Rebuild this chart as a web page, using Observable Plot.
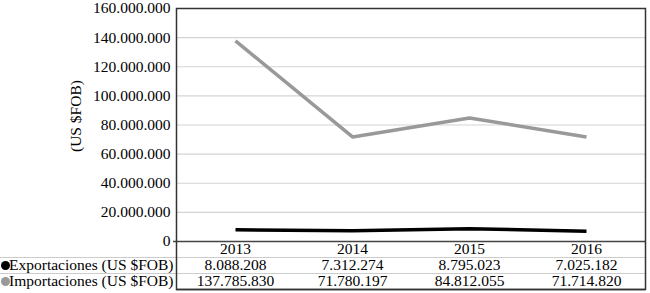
<!DOCTYPE html>
<html>
<head>
<meta charset="utf-8">
<script src="https://cdn.jsdelivr.net/npm/d3@7"></script>
<script src="https://cdn.jsdelivr.net/npm/@observablehq/plot@0.6"></script>
<style>
  html, body { margin: 0; padding: 0; background: #fff; }
  #chart svg { display: block; }
</style>
</head>
<body>
<div id="chart"></div>
<script>
const years = ["2013", "2014", "2015", "2016"];
const exportaciones = [8088208, 7312274, 8795023, 7025182];
const importaciones = [137785830, 71780197, 84812055, 71714820];
const yTicks = [0, 20000000, 40000000, 60000000, 80000000, 100000000, 120000000, 140000000, 160000000];
const seriesNames = ["Exportaciones (US $FOB)", "Importaciones (US $FOB)"];
const yLabel = "(US $FOB)";

const locale = d3.formatLocale({decimal: ",", thousands: ".", grouping: [3], currency: ["$", ""]});
const fmt = locale.format(",d");

const expData = years.map((y, i) => ({year: y, value: exportaciones[i]}));
const impData = years.map((y, i) => ({year: y, value: importaciones[i]}));

const font = "Liberation Serif";
const fs = 15.5;
const colors = ["#000000", "#999999"];
const txt = {fill: "#000", fontFamily: font, fontSize: fs};

const chart = Plot.plot({
  width: 650,
  height: 293,
  marginLeft: 176,
  marginRight: 5,
  marginTop: 8,
  marginBottom: 52,
  style: {fontFamily: font, fontSize: fs + "px", background: "#fff", color: "#000"},
  x: {type: "point", domain: years, padding: 0.5, axis: null},
  y: {domain: [0, 160000000], ticks: yTicks, tickFormat: fmt, tickSize: 0, tickPadding: 6, label: null},
  marks: [
    Plot.gridY(yTicks, {stroke: "#d4d4d4", strokeOpacity: 1, strokeWidth: 1.2}),
    Plot.lineY(impData, {x: "year", y: "value", stroke: colors[1], strokeWidth: 3.5, strokeLinecap: "butt"}),
    Plot.lineY(expData, {x: "year", y: "value", stroke: colors[0], strokeWidth: 3.5, strokeLinecap: "butt"}),
    Plot.ruleY([0], {dy: 16, insetLeft: -176, stroke: "#cccccc", strokeWidth: 1.2}),
    Plot.ruleY([0], {dy: 32, insetLeft: -176, stroke: "#cccccc", strokeWidth: 1.2}),
    Plot.ruleY([0], {dy: 48, stroke: "#333", strokeWidth: 1.5}),
    Plot.ruleY([0], {insetLeft: -3, stroke: "#444", strokeWidth: 1.5}),
    Plot.frame({insetBottom: -48, stroke: "#333", strokeWidth: 1.5}),
    Plot.text(years, {x: d => d, y: 0, dy: 8, text: d => d, lineAnchor: "middle", ...txt}),
    Plot.text(expData, {x: "year", y: 0, dy: 24, text: d => fmt(d.value), lineAnchor: "middle", ...txt}),
    Plot.text(impData, {x: "year", y: 0, dy: 40, text: d => fmt(d.value), lineAnchor: "middle", ...txt}),
    Plot.text([seriesNames[0]], {frameAnchor: "bottom-left", dx: -3, dy: 24, textAnchor: "end", lineAnchor: "middle", ...txt}),
    Plot.text([seriesNames[1]], {frameAnchor: "bottom-left", dx: -3, dy: 40, textAnchor: "end", lineAnchor: "middle", ...txt}),
    Plot.dot([seriesNames[0]], {frameAnchor: "bottom-left", dx: -171, dy: 24, r: 4.5, fill: colors[0], stroke: "none"}),
    Plot.dot([seriesNames[1]], {frameAnchor: "bottom-left", dx: -171, dy: 40, r: 4.5, fill: colors[1], stroke: "none"}),
    Plot.text([yLabel], {frameAnchor: "left", dx: -100, dy: 27, rotate: -90, ...txt}),
    Plot.axisY({ticks: yTicks, tickFormat: fmt, tickSize: 0, tickPadding: 6, label: null, ...txt})
  ]
});
document.getElementById("chart").appendChild(chart);
</script>
</body>
</html>
